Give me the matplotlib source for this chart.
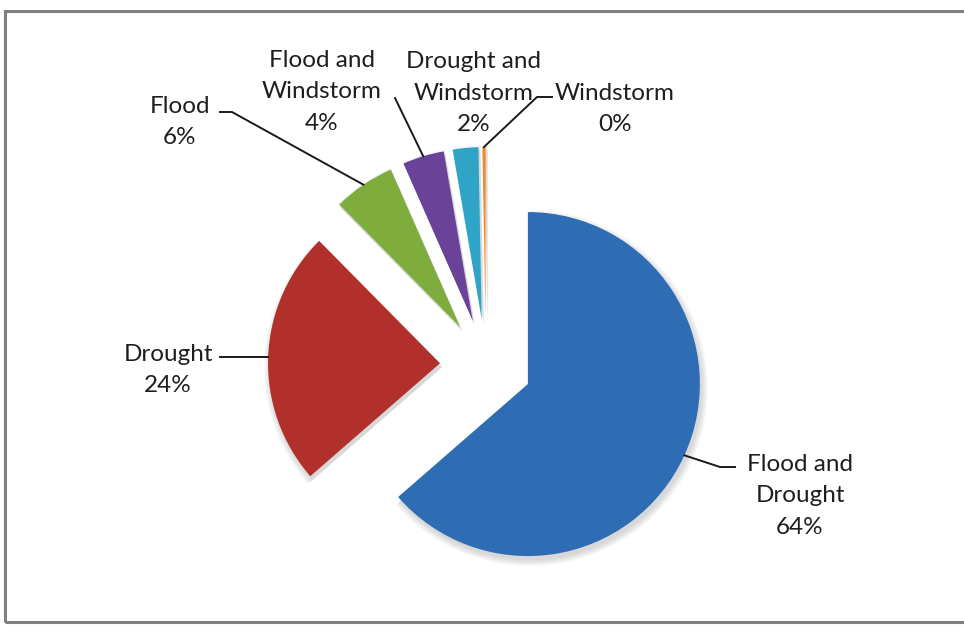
import math

import matplotlib
matplotlib.use("Agg")
import matplotlib.pyplot as plt
from matplotlib.patches import Rectangle, Wedge

# hazard combinations and their share of cases (%)
categories = ["Flood and\nDrought", "Drought", "Flood",
              "Flood and\nWindstorm", "Drought and\nWindstorm", "Windstorm"]
shares = [63.6, 24.0, 5.8, 3.9, 2.4, 0.3]
colors = ["#2e6cb3", "#b2302b", "#7eac3d", "#6a4399", "#30a4c7", "#f08a2a"]

W, H = 964, 626
CENTER = (486, H - 365)
RADIUS = 172
GAP = 46

# label centres and leader bends, in pixels from the top-left corner
# (a None y keeps the leader level with its anchor on the slice)
label_xy = [(800, 496), (168, 370), (180, 122), (322, 92), (474, 93), (615, 109)]
leader_pts = [[(720, 467), (735, 467)],
              [(220, None)],
              [(232, 112), (220, 112)],
              [(395, 98)],
              None,
              [(537, 97), (552, 97)]]

plt.rcParams["font.family"] = ["Lato", "DejaVu Sans"]

fig = plt.figure(figsize=(W / 100, H / 100), dpi=100)
ax = fig.add_axes([0, 0, 1, 1])

wedges, _ = ax.pie(shares, colors=colors, startangle=90, counterclock=False,
                   explode=[GAP] * len(shares), radius=RADIUS, center=CENTER,
                   wedgeprops=dict(linewidth=0))

# soft drop shadow under every slice
for w in wedges:
    w.set_zorder(3)
    for k in range(6):
        sh = Wedge((w.center[0] + 2, w.center[1] - 4), w.r + k * 1.2,
                   w.theta1, w.theta2, facecolor="#404040", alpha=0.035,
                   linewidth=0, zorder=2)
        ax.add_patch(sh)

for w, name, val, (tx, ty), pts in zip(wedges, categories, shares,
                                       label_xy, leader_pts):
    ax.text(tx, H - ty, f"{name}\n{round(val)}%", ha="center", va="center",
            fontsize=17.5, color="#1e1e1e", linespacing=1.62, zorder=5)
    if pts is None:
        continue
    mid = math.radians((w.theta1 + w.theta2) / 2)
    anchor_x = w.center[0] + w.r * math.cos(mid)
    anchor_y = w.center[1] + w.r * math.sin(mid)
    xs = [anchor_x] + [p[0] for p in pts]
    ys = [anchor_y] + [anchor_y if p[1] is None else H - p[1] for p in pts]
    ax.plot(xs, ys, color="#1a1a1a", lw=1.4, zorder=4)

# chart-area frame
ax.add_patch(Rectangle((5, 4), 980, 611, fill=False, edgecolor="#7f7f7f",
                       linewidth=2.2, zorder=1))

ax.set_xlim(0, W)
ax.set_ylim(0, H)
ax.set_aspect("equal")
ax.axis("off")

fig.savefig("out.png", dpi=100, facecolor="white")
